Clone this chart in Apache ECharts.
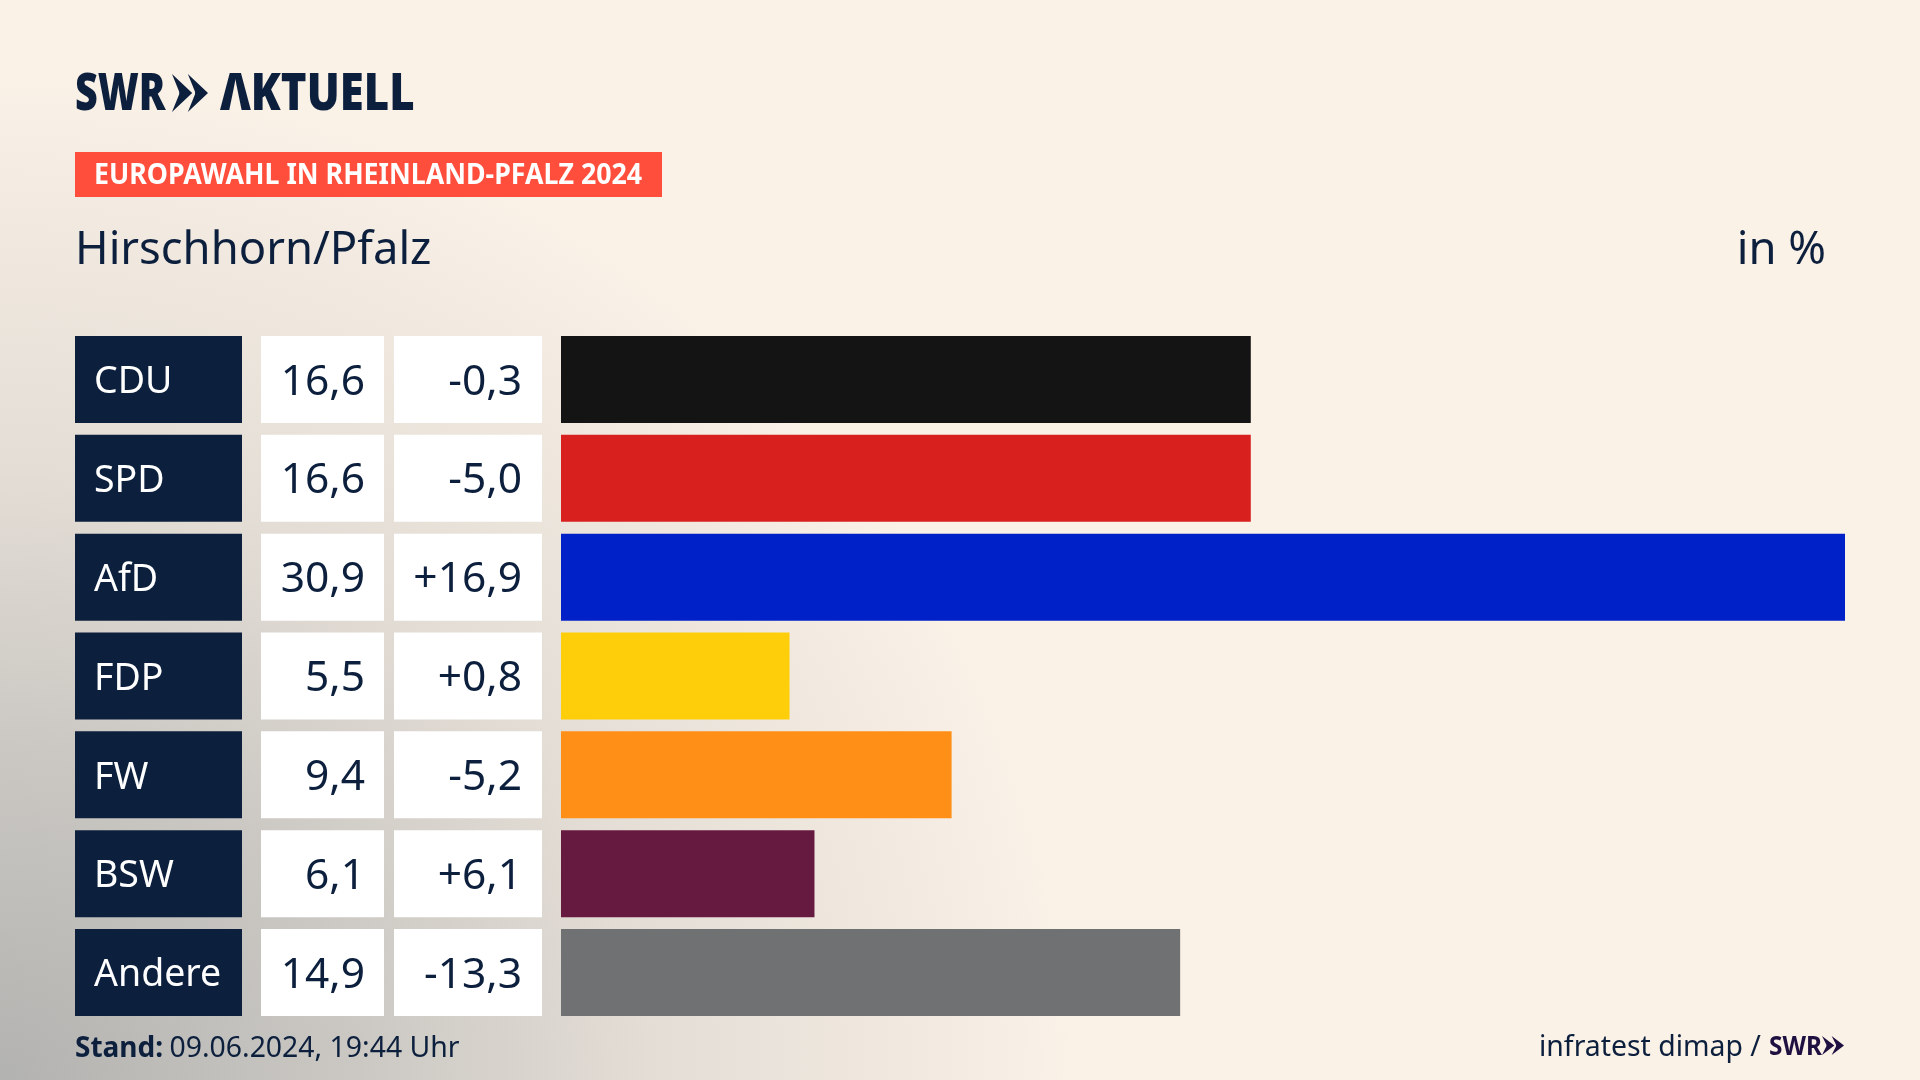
<!DOCTYPE html>
<html>
<head>
<meta charset="utf-8">
<title>Europawahl Hirschhorn/Pfalz</title>
<style>
html, body { margin: 0; padding: 0; width: 1920px; height: 1080px; overflow: hidden; }
body { background: radial-gradient(ellipse 1120px 1050px at 0 100%, #b2b2b0 0%, #cbc8c3 32%, #e3ddd5 58%, #faf1e7 96%), #faf1e7; background-color: #faf1e7; }
#chart { width: 1920px; height: 1080px; }
</style>
<script src="https://cdn.jsdelivr.net/npm/echarts@6/dist/echarts.min.js"></script>
</head>
<body>
<div id="chart"></div>
<script>
var parties = ['CDU', 'SPD', 'AfD', 'FDP', 'FW', 'BSW', 'Andere'];
var shares = [16.6, 16.6, 30.9, 5.5, 9.4, 6.1, 14.9];
var changes = ['-0,3', '-5,0', '+16,9', '+0,8', '-5,2', '+6,1', '-13,3'];
var barColors = ['#141414', '#d8201f', '#0020c8', '#ffce0b', '#ff8f16', '#671a3f', '#707173'];

var navy = '#0c1f3d';
var fontName = '"Noto Sans"';

// gleiche Zeilen in allen vier Spalten
var rowsTop = 330, rowsHeight = 692;
var columns = [
    {left: 75, width: 167},
    {left: 261, width: 123},
    {left: 394, width: 148},
    {left: 561, width: 1284}
];

var grids = [], xAxes = [], yAxes = [];
columns.forEach(function(c, i) {
    grids.push({left: c.left, top: rowsTop, width: c.width, height: rowsHeight});
    xAxes.push({type: 'value', gridIndex: i, min: 0, max: i == 3 ? 30.9 : 1, show: false});
    yAxes.push({type: 'category', gridIndex: i, inverse: true, data: parties, show: false});
});

// Tabellenzelle als Balken ueber die ganze Spaltenbreite
function cellSeries(i, color, labels, textColor, pos, dist) {
    return {
        type: 'bar',
        xAxisIndex: i,
        yAxisIndex: i,
        barWidth: 87,
        silent: true,
        itemStyle: {color: color},
        label: {
            show: true,
            position: pos,
            distance: dist,
            offset: [0, 3],
            color: textColor,
            fontFamily: fontName,
            fontSize: i == 0 ? 37.5 : 42.5,
            formatter: function(p) { return labels[p.dataIndex]; }
        },
        data: parties.map(function() { return 1; })
    };
}

function chevrons(x, y, w, h, color) {
    var t = w * 0.18, a = w * 0.56;
    return [0, 1].map(function(k) {
        var o = x + k * (w - a);
        return {
            type: 'polygon',
            silent: true,
            shape: {points: [[o, y], [o + a, y + h / 2], [o, y + h], [o + a - 2 * t, y + h / 2 + t * 0.2], [o + a - 2 * t, y + h / 2 - t * 0.2]]},
            style: {fill: color}
        };
    });
}

function label(str, x, y, size, weight, color, scaleX, align) {
    return {
        type: 'text',
        silent: true,
        x: x,
        y: y,
        scaleX: scaleX || 1,
        style: {
            text: str,
            fill: color,
            font: (weight || 'normal') + ' ' + size + 'px ' + fontName,
            textAlign: align || 'left',
            textVerticalAlign: 'middle'
        }
    };
}

var chart = echarts.init(document.getElementById('chart'));
chart.setOption({
    animation: false,
    grid: grids,
    xAxis: xAxes,
    yAxis: yAxes,
    series: [
        cellSeries(0, navy, parties, '#ffffff', 'insideLeft', 19),
        cellSeries(1, '#ffffff', shares.map(function(v) { return v.toFixed(1).replace('.', ','); }), navy, 'insideRight', 19),
        cellSeries(2, '#ffffff', changes, navy, 'insideRight', 20),
        {
            type: 'bar',
            xAxisIndex: 3,
            yAxisIndex: 3,
            barWidth: 87,
            silent: true,
            data: shares.map(function(v, i) {
                return {value: v, itemStyle: {color: barColors[i]}};
            })
        }
    ],
    graphic: [
        label('SWR', 75, 95, 52, '900', navy, 0.76),
        label('\u039bKTUELL', 220, 95, 52, '900', navy, 0.84)
    ].concat(chevrons(172, 74, 36, 38, navy)).concat([
        {type: 'rect', silent: true, shape: {x: 75, y: 152, width: 587, height: 45}, style: {fill: '#ff4f3c'}},
        label('EUROPAWAHL IN RHEINLAND-PFALZ 2024', 94, 176.5, 28, 'bold', '#ffffff', 0.956),
        label('Hirschhorn/Pfalz', 75, 251.5, 45.4, 'normal', navy),
        label('in %', 1826, 251.5, 45.4, 'normal', navy, 1, 'right'),
        {
            type: 'text',
            silent: true,
            x: 75,
            y: 1049,
            style: {
                text: '{b|Stand:} {r|09.06.2024, 19:44 Uhr}',
                textVerticalAlign: 'middle',
                rich: {
                    b: {font: 'bold 28px ' + fontName, fill: navy},
                    r: {font: 'normal 28.4px ' + fontName, fill: navy, padding: [0, 0, 0, 3]}
                }
            }
        },
        label('infratest dimap /', 1539, 1048, 28.4, 'normal', navy),
        label('SWR', 1769, 1047, 27, 'bold', '#1e1040', 0.9)
    ]).concat(chevrons(1822, 1036, 22, 19, '#1e1040'))
});
</script>
</body>
</html>
